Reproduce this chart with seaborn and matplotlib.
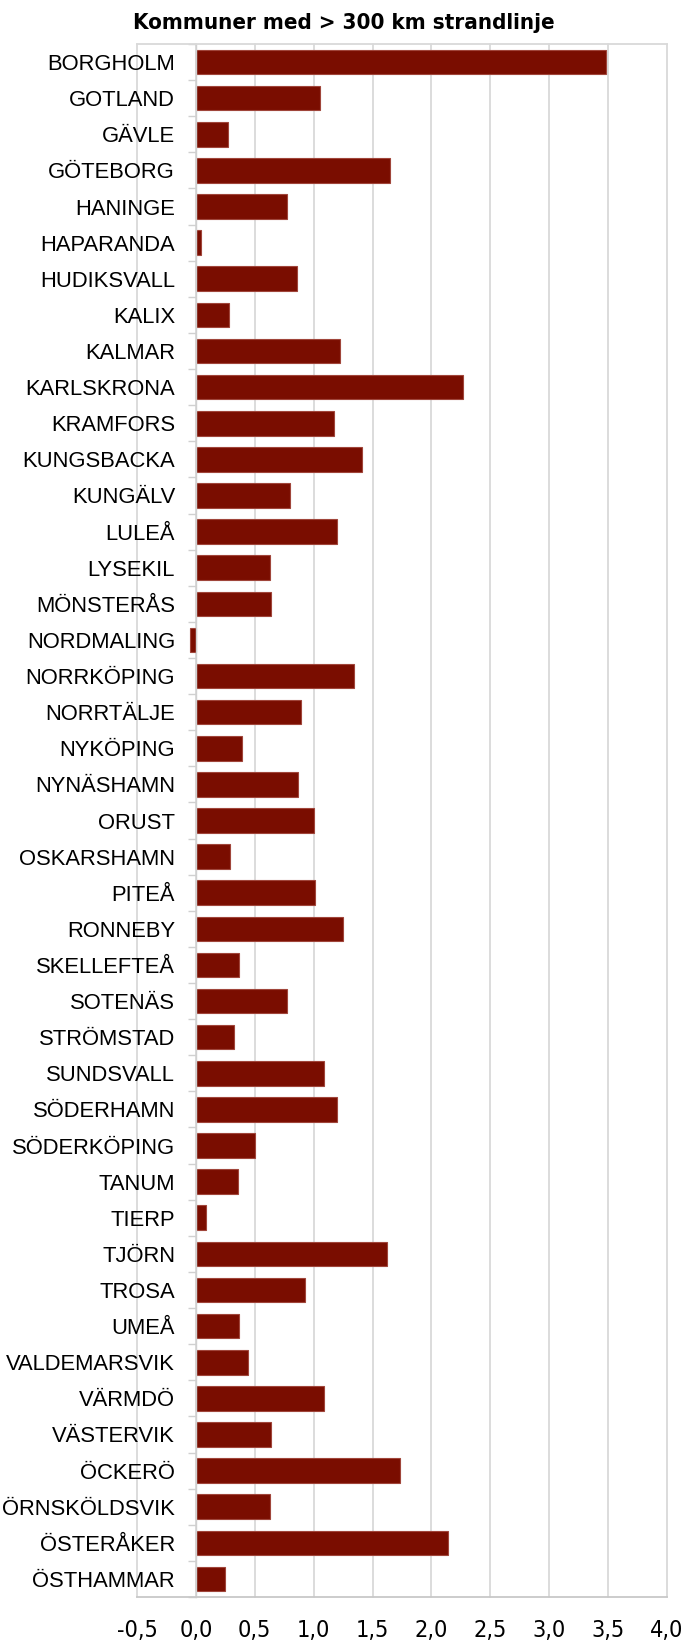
import matplotlib
matplotlib.use("Agg")
import matplotlib.pyplot as plt
import seaborn as sns
import pandas as pd
import numpy as np
from matplotlib import font_manager
from matplotlib.ticker import FixedLocator, FuncFormatter

kommuner = ["BORGHOLM", "GOTLAND", "GÄVLE", "GÖTEBORG", "HANINGE", "HAPARANDA",
            "HUDIKSVALL", "KALIX", "KALMAR", "KARLSKRONA", "KRAMFORS", "KUNGSBACKA",
            "KUNGÄLV", "LULEÅ", "LYSEKIL", "MÖNSTERÅS", "NORDMALING", "NORRKÖPING",
            "NORRTÄLJE", "NYKÖPING", "NYNÄSHAMN", "ORUST", "OSKARSHAMN", "PITEÅ",
            "RONNEBY", "SKELLEFTEÅ", "SOTENÄS", "STRÖMSTAD", "SUNDSVALL", "SÖDERHAMN",
            "SÖDERKÖPING", "TANUM", "TIERP", "TJÖRN", "TROSA", "UMEÅ", "VALDEMARSVIK",
            "VÄRMDÖ", "VÄSTERVIK", "ÖCKERÖ", "ÖRNSKÖLDSVIK", "ÖSTERÅKER", "ÖSTHAMMAR"]
values = [3.48, 1.05, 0.27, 1.65, 0.77, 0.04,
          0.86, 0.28, 1.22, 2.27, 1.17, 1.41,
          0.80, 1.20, 0.63, 0.64, -0.05, 1.34,
          0.89, 0.39, 0.87, 1.00, 0.29, 1.01,
          1.25, 0.37, 0.77, 0.32, 1.09, 1.20,
          0.50, 0.36, 0.09, 1.62, 0.93, 0.37, 0.44,
          1.09, 0.64, 1.73, 0.63, 2.14, 0.25]
x_ticks = [-0.5, 0.0, 0.5, 1.0, 1.5, 2.0, 2.5, 3.0, 3.5, 4.0]
title = "Kommuner med > 300 km strandlinje"

df = pd.DataFrame({"kommun": kommuner, "varde": values})

sns.set_theme(style="white")
plt.rcParams["font.family"] = ["Liberation Sans", "DejaVu Sans"]
plt.rcParams["text.color"] = "black"
plt.rcParams["xtick.color"] = "black"
plt.rcParams["ytick.color"] = "black"

# look for a condensed / narrow face if one is installed
narrow_fp = None
narrow_bold_fp = None
for f in font_manager.fontManager.ttflist:
    n = f.name.lower()
    st = str(f.stretch).lower()
    if ("narrow" in n or "condensed" in n or st in ("condensed", "semi-condensed")) and f.style == "normal":
        w = f.weight if isinstance(f.weight, int) else (700 if "bold" in str(f.weight) else 400)
        if w <= 500 and narrow_fp is None:
            narrow_fp = font_manager.FontProperties(fname=f.fname)
        if w >= 600 and narrow_bold_fp is None:
            narrow_bold_fp = font_manager.FontProperties(fname=f.fname)

fig = plt.figure(figsize=(6.87, 16.44), dpi=100)
ax = fig.add_axes([137/687, 1 - 1597/1644, (667-137)/687, (1597-44)/1644])

sns.barplot(data=df, y="kommun", x="varde", orient="h", color="#7A0D00",
            edgecolor="#A0453A", linewidth=0.8, width=0.68, ax=ax, saturation=1)

ax.set_xlim(-0.5, 4.0)
ax.set_ylim(len(kommuner) - 0.5, -0.5)
ax.set_xticks(x_ticks)
ax.xaxis.set_major_formatter(FuncFormatter(lambda v, p: f"{v:.1f}".replace(".", ",")))
ax.grid(axis="x", color="#D9D9D9", linewidth=1.3, zorder=0)
ax.set_axisbelow(True)
for gl in ax.get_xgridlines():
    gl.set_clip_on(False)

ax.spines["left"].set_position(("data", 0))
ax.spines["left"].set_color("#D0D0D0")
ax.spines["left"].set_linewidth(1.0)
ax.spines["bottom"].set_color("#C8C8C8")
ax.spines["bottom"].set_linewidth(1.3)
ax.spines["top"].set_color("#D9D9D9")
ax.spines["top"].set_linewidth(1.3)
ax.spines["right"].set_visible(False)

ax.yaxis.set_minor_locator(FixedLocator(np.arange(-0.5, len(kommuner), 1.0)))
ax.tick_params(axis="y", which="major", length=0, pad=15, labelsize=15.8, labelcolor="black")
ax.tick_params(axis="y", which="minor", length=6, width=1.0, color="#D0D0D0", left=True)
ax.tick_params(axis="x", length=0, pad=16, labelcolor="black")
for lab in ax.get_xticklabels():
    if narrow_fp is not None:
        lab.set_fontproperties(narrow_fp)
        lab.set_fontsize(16.8)
    else:
        lab.set_fontsize(14.5)
ax.set_xlabel("")
ax.set_ylabel("")

if narrow_bold_fp is not None:
    fig.text(0.5, 1 - 23/1644, title, ha="center", va="center", fontsize=16,
             fontproperties=narrow_bold_fp, color="black")
else:
    fig.text(0.5, 1 - 23/1644, title, ha="center", va="center", fontsize=16,
             fontweight="bold", color="black")

fig.savefig("out.png", dpi=100)
